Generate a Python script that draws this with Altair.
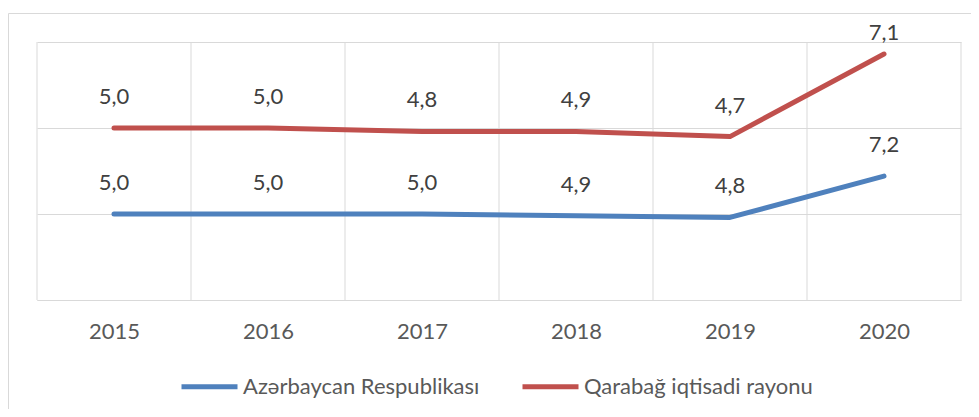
import altair as alt
import pandas as pd

years = [2015, 2016, 2017, 2018, 2019, 2020]
series_names = ["Azərbaycan Respublikası", "Qarabağ iqtisadi rayonu"]
az_values = [5.0, 5.0, 5.0, 4.9, 4.8, 7.2]
qa_values = [5.0, 5.0, 4.8, 4.9, 4.7, 7.1]
colors = ["#4F81BD", "#C0504D"]


def fmt(v):
    return f"{v:.1f}".replace(".", ",")


rows = []
for i, yr in enumerate(years):
    rows.append({"year": yr, "series": series_names[0], "value": az_values[i],
                 "stack": az_values[i], "label": fmt(az_values[i])})
    rows.append({"year": yr, "series": series_names[1], "value": qa_values[i],
                 "stack": az_values[i] + qa_values[i], "label": fmt(qa_values[i])})
df = pd.DataFrame(rows)

bounds = pd.DataFrame({"b": [years[0] - 0.5] + [y + 0.5 for y in years]})
one = pd.DataFrame({"a": [0]})

FONT = "Lato"
FS = 22
GRID = "#d9d9d9"

x_axis = alt.Axis(values=years, format="d", labelFontSize=FS, labelFont=FONT,
                  labelColor="#595959", ticks=False, grid=False, domainColor=GRID,
                  domainWidth=1, labelPadding=21, title=None, labelFlush=False)
y_axis = alt.Axis(values=[0, 5, 10, 15], labels=False, ticks=False, domain=False,
                  grid=True, gridColor=GRID, gridWidth=1, title=None)
x_scale = alt.Scale(domain=[2014.5, 2020.5], nice=False, zero=False)
y_scale = alt.Scale(domain=[0, 15], nice=False)

frame_v = alt.Chart(one).mark_rule(color=GRID, strokeWidth=1).encode(
    x=alt.value(-28.5), y=alt.value(-28.5), y2=alt.value(400))
frame_h = alt.Chart(one).mark_rule(color=GRID, strokeWidth=1).encode(
    x=alt.value(-28.5), x2=alt.value(940), y=alt.value(-28.5))

vgrid = alt.Chart(bounds).mark_rule(color=GRID, strokeWidth=1).encode(
    x=alt.X("b:Q", scale=x_scale, axis=x_axis),
    y=alt.value(0), y2=alt.value(258))

lines = alt.Chart(df).mark_line(strokeWidth=5, strokeCap="round", strokeJoin="round").encode(
    x=alt.X("year:Q", scale=x_scale, axis=x_axis),
    y=alt.Y("stack:Q", scale=y_scale, axis=y_axis),
    color=alt.Color("series:N", scale=alt.Scale(domain=series_names, range=colors),
                    legend=alt.Legend(orient="none", legendX=142, legendY=314,
                                      direction="horizontal", title=None,
                                      symbolType="stroke", symbolSize=3136,
                                      symbolStrokeWidth=5, labelFontSize=FS,
                                      labelFont=FONT, labelColor="#595959",
                                      labelOffset=3, columnPadding=32,
                                      labelLimit=400)),
    order="year:Q",
)

text_main = alt.Chart(df).transform_filter(
    "!(datum.year == 2020 && datum.series == 'Qarabağ iqtisadi rayonu')"
).mark_text(fontSize=FS, font=FONT, color="#404040", baseline="middle", dy=-31).encode(
    x=alt.X("year:Q", scale=x_scale, axis=x_axis),
    y=alt.Y("stack:Q", scale=y_scale, axis=y_axis),
    text="label:N",
)
text_top = alt.Chart(df).transform_filter(
    "datum.year == 2020 && datum.series == 'Qarabağ iqtisadi rayonu'"
).mark_text(fontSize=FS, font=FONT, color="#404040", baseline="middle", dy=-21).encode(
    x=alt.X("year:Q", scale=x_scale, axis=x_axis),
    y=alt.Y("stack:Q", scale=y_scale, axis=y_axis),
    text="label:N",
)

chart = alt.layer(frame_v, frame_h, vgrid, lines, text_main, text_top).properties(
    width=924, height=258,
    padding={"left": 29, "top": 34, "right": 10, "bottom": 109},
    autosize=alt.AutoSizeParams(type="none"),
    background="white",
).configure_view(stroke=None)

chart.save("out.html", embed_options={"renderer": "svg", "actions": False})
